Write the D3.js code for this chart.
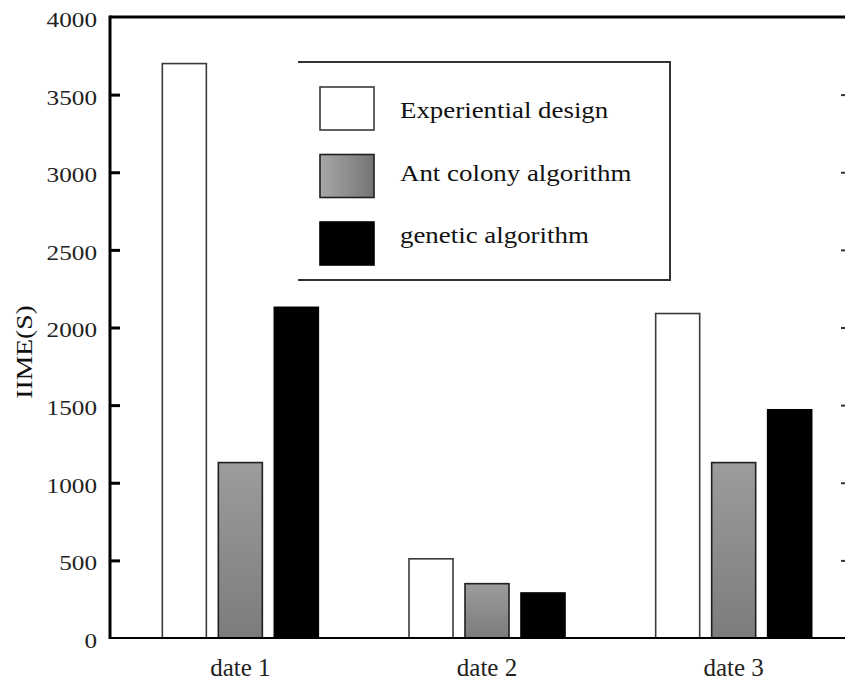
<!DOCTYPE html>
<html>
<head>
<meta charset="utf-8">
<script src="https://cdn.jsdelivr.net/npm/d3@7"></script>
<style>
  html, body { margin: 0; padding: 0; background: #fff; }
  svg { display: block; }
</style>
</head>
<body>
<div id="chart"></div>
<script>
// chart values
var dates = ["date 1", "date 2", "date 3"];
var seriesNames = ["Experiential design", "Ant colony algorithm", "genetic algorithm"];
var experiential = [3700, 510, 2090];
var antColony = [1130, 350, 1130];
var genetic = [2130, 290, 1470];
var yTicks = [0, 500, 1000, 1500, 2000, 2500, 3000, 3500, 4000];
var yLabel = "IIME(S)";

var W = 845, H = 681;
var LEFT = 110, RIGHT = 848, TOP = 17, BOTTOM = 638;
var FONT = "'Liberation Serif', 'Times New Roman', serif";

var svg = d3.select("#chart").append("svg")
  .attr("width", W)
  .attr("height", H);

var defs = svg.append("defs");

// vertical gradient for the bars, horizontal one for the legend swatch
var barGrad = defs.append("linearGradient")
  .attr("id", "ant-bar")
  .attr("x1", 0).attr("y1", 0).attr("x2", 0).attr("y2", 1);
barGrad.append("stop").attr("offset", 0).attr("stop-color", "#9c9c9c");
barGrad.append("stop").attr("offset", 1).attr("stop-color", "#7c7c7c");

var keyGrad = defs.append("linearGradient")
  .attr("id", "ant-key")
  .attr("x1", 0).attr("y1", 0).attr("x2", 1).attr("y2", 0);
keyGrad.append("stop").attr("offset", 0).attr("stop-color", "#a8a8a8");
keyGrad.append("stop").attr("offset", 1).attr("stop-color", "#747474");

var fills = ["#ffffff", "url(#ant-bar)", "#000000"];
var keyFills = ["#ffffff", "url(#ant-key)", "#000000"];
var strokes = ["#3a3a3a", "#202020", "#000000"];

var y = d3.scaleLinear().domain([0, 4000]).range([BOTTOM, TOP]);

var x0 = d3.scaleBand().domain(dates).range([117, 857]).paddingInner(0);
var x1 = d3.scaleBand().domain(seriesNames).range([-78, 78])
  .paddingInner(0.214).paddingOuter(0);

var table = dates.map(function(d, i) {
  return {
    date: d,
    values: [experiential[i], antColony[i], genetic[i]]
  };
});

// stretch text horizontally a little, like the scanned original
function stretch(sel, k) {
  sel.each(function() {
    var w = this.getComputedTextLength();
    d3.select(this)
      .attr("textLength", w * k)
      .attr("lengthAdjust", "spacingAndGlyphs");
  });
}

// Bars
var groups = svg.append("g")
  .selectAll("g")
  .data(table)
  .enter().append("g")
  .attr("transform", function(d) { return "translate(" + (x0(d.date) + x0.bandwidth() / 2) + ",0)"; });

groups.selectAll("rect")
  .data(function(d) { return d.values.map(function(v, j) { return {name: seriesNames[j], value: v, j: j}; }); })
  .enter().append("rect")
  .attr("x", function(d) { return x1(d.name); })
  .attr("y", function(d) { return y(d.value); })
  .attr("width", x1.bandwidth())
  .attr("height", function(d) { return BOTTOM - y(d.value); })
  .attr("fill", function(d) { return fills[d.j]; })
  .attr("stroke", function(d) { return strokes[d.j]; })
  .attr("stroke-width", 1.6);

// Left axis
var yAxis = d3.axisLeft(y)
  .tickValues(yTicks)
  .tickSize(-10)
  .tickPadding(13)
  .tickFormat(d3.format("d"));

var gy = svg.append("g")
  .attr("transform", "translate(" + LEFT + ",0)")
  .call(yAxis);

gy.select(".domain").remove();
gy.selectAll(".tick line")
  .attr("stroke", "#000")
  .attr("stroke-width", 3)
  .filter(function(d) { return d === 0 || d === 4000; }).remove();
gy.selectAll(".tick text")
  .attr("font-family", FONT)
  .attr("font-size", 21)
  .attr("fill", "#222")
  .attr("dy", "0.45em")
  .call(stretch, 1.2);

// Right axis (mostly outside the picture, only tick stubs show)
var gr = svg.append("g")
  .attr("transform", "translate(" + RIGHT + ",0)")
  .call(d3.axisRight(y).tickValues(yTicks.slice(1, -1)).tickSize(-7).tickFormat(""));
gr.select(".domain").remove();
gr.selectAll(".tick line").attr("stroke", "#333").attr("stroke-width", 2);

// Frame: left and top lines
svg.append("line")
  .attr("x1", LEFT).attr("x2", LEFT)
  .attr("y1", TOP - 1.5).attr("y2", BOTTOM + 1)
  .attr("stroke", "#000").attr("stroke-width", 3);

svg.append("line")
  .attr("x1", LEFT).attr("x2", W)
  .attr("y1", TOP).attr("y2", TOP)
  .attr("stroke", "#000").attr("stroke-width", 3);

// Bottom axis
var gx = svg.append("g")
  .attr("transform", "translate(0," + BOTTOM + ")")
  .call(d3.axisBottom(x0).tickSize(0).tickPadding(20));

gx.select(".domain")
  .attr("d", "M" + LEFT + ",0H" + W)
  .attr("stroke", "#000")
  .attr("stroke-width", 2.2);
gx.selectAll(".tick text")
  .attr("font-family", FONT)
  .attr("font-size", 25)
  .attr("fill", "#222")
  .attr("dy", "0.71em");

// Y label
svg.append("text")
  .attr("transform", "translate(32,352) rotate(-90)")
  .attr("text-anchor", "middle")
  .attr("font-family", FONT)
  .attr("font-size", 24)
  .attr("fill", "#111")
  .text(yLabel)
  .call(stretch, 1.15);

// Legend
var legend = svg.append("g");

legend.append("path")
  .attr("d", "M298,62H670V280H298")
  .attr("fill", "none")
  .attr("stroke", "#333")
  .attr("stroke-width", 2);

var items = legend.selectAll("g")
  .data(seriesNames)
  .enter().append("g");

items.append("rect")
  .attr("x", 320)
  .attr("y", function(d, i) { return 87 + i * 67.5; })
  .attr("width", 54)
  .attr("height", 43)
  .attr("fill", function(d, i) { return keyFills[i]; })
  .attr("stroke", function(d, i) { return strokes[i]; })
  .attr("stroke-width", 1.6);

items.append("text")
  .attr("x", 400)
  .attr("y", function(d, i) { return 118 + i * 62.5; })
  .attr("font-family", FONT)
  .attr("font-size", 24)
  .attr("fill", "#111")
  .text(function(d) { return d; })
  .call(stretch, 1.12);
</script>
</body>
</html>
